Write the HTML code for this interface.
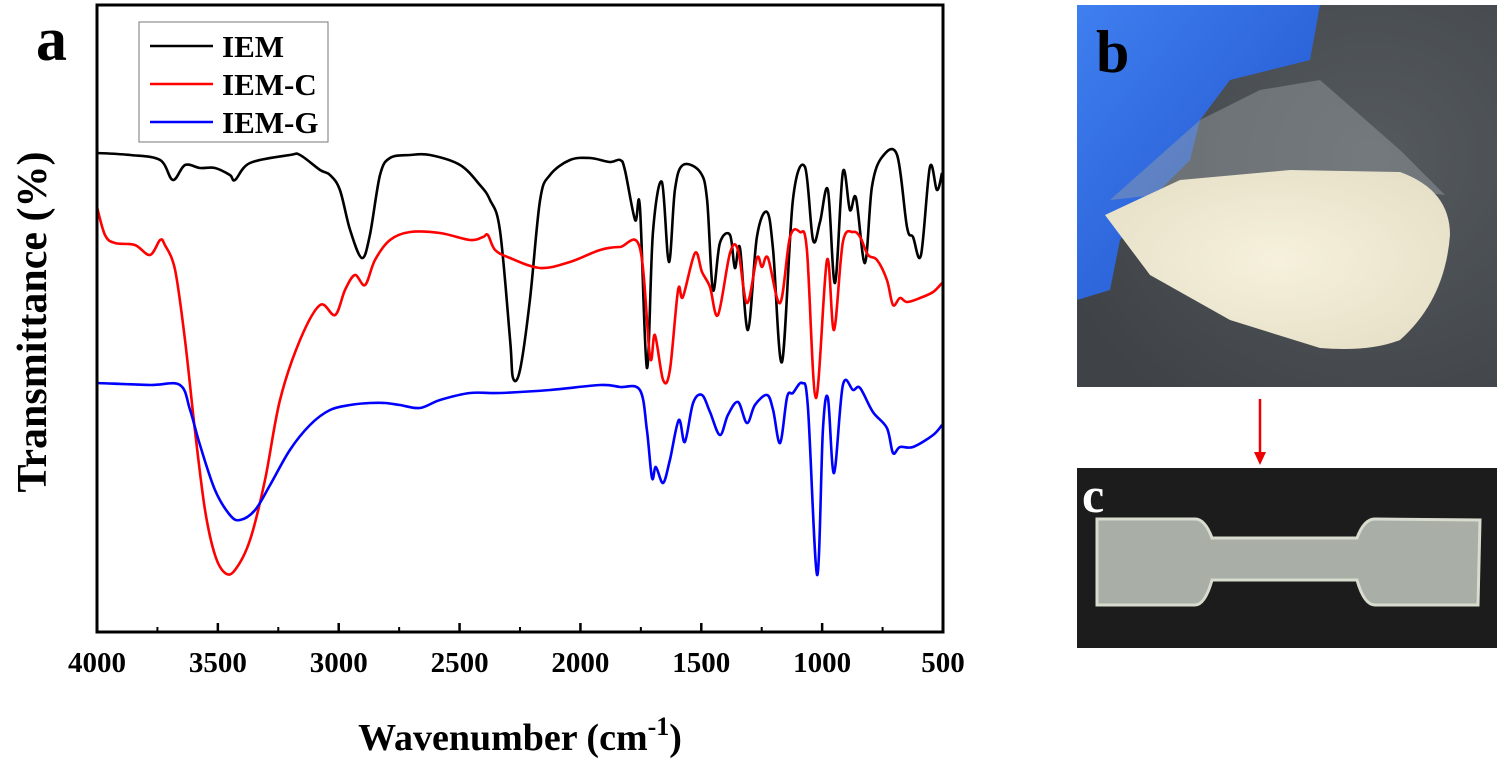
<!DOCTYPE html>
<html><head><meta charset="utf-8"><style>
html,body{margin:0;padding:0;background:#fff;width:1500px;height:761px;overflow:hidden}
svg{display:block}
text{font-family:"Liberation Serif",serif;font-weight:bold}
</style></head><body>
<svg id="svg" width="1500" height="761" viewBox="0 0 1500 761">
<defs>
<radialGradient id="bgb" cx="0.7" cy="0.4" r="0.8"><stop offset="0" stop-color="#555a5e"/><stop offset="1" stop-color="#3f4347"/></radialGradient>
<linearGradient id="glove" x1="0" y1="0" x2="1" y2="1"><stop offset="0" stop-color="#3f7ff0"/><stop offset="1" stop-color="#1e50c8"/></linearGradient>
<radialGradient id="milk" cx="0.5" cy="0.5" r="0.6"><stop offset="0" stop-color="#f6f1dc"/><stop offset="1" stop-color="#e6e0c8"/></radialGradient>
</defs>
<text x="36" y="60" font-size="62">a</text>
<g id="plot"></g>
<g>
<rect x="1077" y="5" width="420" height="382" fill="url(#bgb)"/>
<polygon points="1077,5 1320,5 1310,60 1230,80 1200,120 1190,160 1150,200 1120,240 1110,290 1077,300" fill="url(#glove)"/>
<polygon points="1110,200 1200,120 1260,90 1320,80 1400,150 1445,195 1400,190 1200,190" fill="#9aa0a4" opacity="0.45"/>
<path d="M1105,215 L1180,180 L1290,170 L1400,172 Q1450,190 1450,235 Q1445,300 1400,340 Q1370,352 1320,348 L1230,320 L1150,275 Z" fill="url(#milk)"/>
<text x="1096" y="72" font-size="60">b</text>
</g>
<g>
<line x1="1260" y1="399" x2="1260" y2="455" stroke="#e00" stroke-width="2.5"/>
<polygon points="1254,452 1266,452 1260,465" fill="#e00"/>
</g>
<g>
<rect x="1077" y="468" width="420" height="180" fill="#1c1c1c"/>
<path d="M1097,519 L1195,519 Q1205,519 1212,538 L1357,538 Q1364,519 1375,519 L1480,520 L1478,605 L1375,605 Q1364,605 1357,580 L1212,580 Q1205,605 1195,605 L1097,605 Z" fill="#a9aea6" stroke="#d8dccf" stroke-width="3"/>
<text x="1082" y="512" font-size="50" fill="#fff">c</text>
</g>
</svg>
<script>
const wnIEM=[4000,3863,3739,3686,3636,3574,3512,3450,3429,3367,3202,3160,3077,3036,2995,2953,2904,2871,2829,2788,2705,2622,2498,2416,2374,2333,2291,2279,2250,2209,2167,2126,2043,1960,1878,1836,1816,1774,1754,1725,1700,1663,1634,1609,1576,1505,1476,1452,1423,1381,1361,1340,1307,1270,1228,1203,1166,1121,1071,1038,1009,976,947,914,885,860,823,794,752,690,649,624,591,554,525,504];
const tIEM=[479,477,472,452,467,464,464,457,452,469,477,477,462,457,442,402,374,397,457,474,477,477,467,447,432,402,292,254,262,332,432,457,472,474,470,472,462,412,425,264,399,450,370,442,467,460,432,342,389,397,364,384,302,395,420,382,270,432,465,392,410,442,349,460,422,434,369,445,475,477,405,395,377,465,442,459];
const wnC=[4000,3967,3926,3843,3781,3739,3719,3677,3636,3595,3553,3512,3470,3429,3367,3305,3243,3160,3077,3015,2974,2933,2891,2850,2788,2705,2581,2457,2403,2383,2353,2291,2167,2043,1919,1836,1754,1712,1692,1658,1630,1596,1576,1526,1497,1464,1431,1381,1348,1311,1270,1249,1224,1174,1133,1092,1063,1026,980,951,914,872,843,810,773,732,707,678,649,595,541,504];
const tC=[425,397,389,387,377,392,387,362,292,202,122,77,59,62,92,152,232,292,327,317,342,357,347,372,392,400,399,392,395,397,382,374,364,370,382,385,384,275,297,252,262,342,335,379,360,345,317,379,382,329,374,365,374,329,395,400,382,234,372,302,390,400,395,377,372,352,327,334,330,334,340,349];
const wnG=[4000,3781,3657,3615,3574,3512,3450,3408,3346,3284,3202,3119,3036,2953,2871,2809,2747,2664,2581,2457,2333,2126,1919,1836,1754,1725,1704,1688,1658,1630,1593,1568,1534,1497,1464,1423,1390,1348,1311,1278,1228,1203,1174,1145,1121,1083,1059,1021,997,976,951,914,872,843,790,732,707,678,624,541,504];
const tG=[249,247,247,222,187,142,117,112,122,147,182,207,222,227,229,229,227,224,232,239,239,242,247,245,242,202,154,165,149,172,212,190,229,237,220,197,217,230,209,227,237,222,189,235,239,249,225,57,202,234,159,247,242,244,220,204,179,185,185,197,207];
const xTicks=[4000,3500,3000,2500,2000,1500,1000,500];
const seriesNames=["IEM","IEM-C","IEM-G"];

const L=97,R=943,T=5,B=632;
const xs=w=>L+(4000-w)*(R-L)/3500;
const ys=v=>B-v*(B-T)/627;
const NS="http://www.w3.org/2000/svg";
const g=document.getElementById('plot');
function mk(tag,attrs,parent){const e=document.createElementNS(NS,tag);for(const k in attrs)e.setAttribute(k,attrs[k]);(parent||g).appendChild(e);return e;}
function smoothPath(P){
  let d='M'+P[0][0].toFixed(1)+','+P[0][1].toFixed(1);
  for(let i=0;i<P.length-1;i++){
    const p0=P[i-1]||P[i],p1=P[i],p2=P[i+1],p3=P[i+2]||P[i+1];
    const c1=[p1[0]+(p2[0]-p0[0])/6,p1[1]+(p2[1]-p0[1])/6];
    const c2=[p2[0]-(p3[0]-p1[0])/6,p2[1]-(p3[1]-p1[1])/6];
    d+=' C'+c1.map(v=>v.toFixed(1)).join(',')+' '+c2.map(v=>v.toFixed(1)).join(',')+' '+p2.map(v=>v.toFixed(1)).join(',');
  }
  return d;
}
function series(wn,t,color,name){
  const P=wn.map((w,i)=>[xs(w),ys(t[i])]);
  const p=mk('path',{d:smoothPath(P),fill:'none',stroke:color,'stroke-width':2.6,'stroke-linejoin':'round'});
  
  
}
series(wnIEM,tIEM,'#000','series-iem');
series(wnC,tC,'#f00','series-iem-c');
series(wnG,tG,'#00f','series-iem-g');
const frame=mk('rect',{x:L,y:T,width:R-L,height:B-T,fill:'none',stroke:'#000','stroke-width':3});


xTicks.forEach(w=>{
  mk('line',{x1:xs(w),x2:xs(w),y1:B,y2:B-9,stroke:'#000','stroke-width':2.5});
  if(w>500) mk('line',{x1:xs(w-250),x2:xs(w-250),y1:B,y2:B-5,stroke:'#000','stroke-width':2});
  const t=mk('text',{x:xs(w),y:B+40,'text-anchor':'middle','font-size':29});
  t.textContent=w;
  
  
});
const xt=mk('text',{x:520,y:750,'text-anchor':'middle','font-size':38});
xt.innerHTML='Wavenumber (cm<tspan dy="-15" font-size="26">-1</tspan><tspan dy="15">)</tspan>';


const yt=mk('text',{x:0,y:0,'text-anchor':'middle','font-size':42,transform:'translate(46,322) rotate(-90)'});
yt.textContent='Transmittance (%)';


const lg=mk('g',{});


mk('rect',{x:139,y:22,width:189,height:120,fill:'#fff',stroke:'#777','stroke-width':1},lg);
const cols=['#000','#f00','#00f'];
seriesNames.forEach((n,i)=>{
  const y=46+i*38;
  mk('line',{x1:150,x2:213,y1:y,y2:y,stroke:cols[i],'stroke-width':2.5},lg);
  const t=mk('text',{x:222,y:y+11,'font-size':31},lg);
  t.textContent=n;
  
  
});
</script>
</body></html>
